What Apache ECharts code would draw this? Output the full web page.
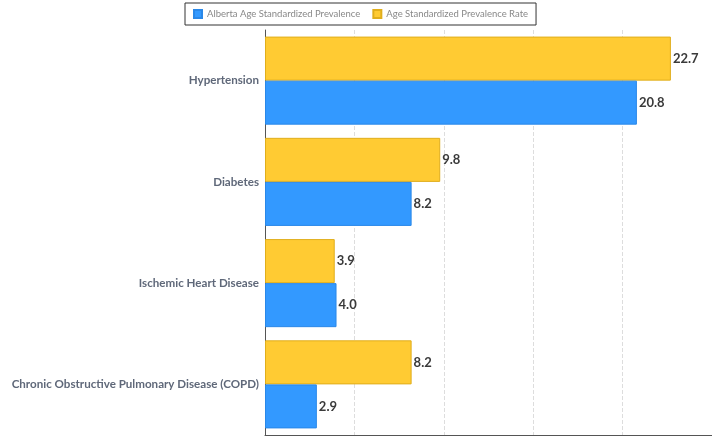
<!DOCTYPE html>
<html>
    <head>
        <meta charset="UTF-8">
        <title></title>
        <script type="text/javascript" src="https://cdn.jsdelivr.net/npm/echarts@6/dist/echarts.min.js"></script>
    </head>
    <body style="margin:0;">
        <div id="main" style="width: 712px;height:437px;"></div>
    </body>
</html>
<script type="text/javascript">
        // categories from top to bottom as shown in the picture
        var diseases = ['Hypertension', 'Diabetes', 'Ischemic Heart Disease', 'Chronic Obstructive Pulmonary Disease (COPD)'];
        var albertaRate = [20.8, 8.2, 4.0, 2.9];
        var otherRate = [22.7, 9.8, 3.9, 8.2];
        var seriesNames = ['Alberta Age Standardized Prevalence', 'Age Standardized Prevalence Rate'];

        var myChart = echarts.init(document.getElementById('main'));
        var labelStyle = {
                show: true,
                position: 'right',
                distance: 2,
                color: '#3a3a3a',
                fontWeight: 'bold',
                fontSize: 13,
                fontFamily: 'Lato',
                formatter: function(p) { return p.value.toFixed(1); }
        };
        option = {
                animation: false,
                legend: {
                        data: seriesNames,   // blue entry first
                        left: 185,
                        top: 3,
                        padding: [6, 8, 6, 8],
                        borderColor: '#333',
                        borderWidth: 1,
                        itemWidth: 8,
                        itemHeight: 8,
                        itemGap: 12,
                        icon: 'rect',
                        textStyle: { color: '#888', fontSize: 9.5, fontFamily: 'Lato' }
                },
                grid: {
                        left: 265,
                        right: 0,
                        top: 30,
                        bottom: 2
                },
                xAxis: {
                        type: 'value',
                        min: 0,
                        max: 25,
                        interval: 5,
                        axisLabel: { show: false },
                        axisTick: { show: false },
                        axisLine: { show: true, lineStyle: { color: '#555' } },
                        splitLine: { show: true, lineStyle: { type: 'dashed', color: '#ddd' } }
                },
                yAxis: {
                        type: 'category',
                        data: diseases.slice().reverse(),
                        axisTick: { show: false },
                        axisLine: { show: true, lineStyle: { color: '#555' } },
                        axisLabel: { color: '#5f6879', fontSize: 11.6, fontWeight: 'bold', fontFamily: 'Lato', margin: 6 }
                },
                // yellow series listed first so it sits above the blue bar in each band
                series: [{
                        name: seriesNames[1],
                        type: 'bar',
                        data: otherRate.slice().reverse(),
                        barCategoryGap: '13%',
                        barGap: '0%',
                        itemStyle: { color: '#ffcb33', borderColor: '#e0ae1c', borderWidth: 1 },
                        label: labelStyle
                }, {
                        name: seriesNames[0],
                        type: 'bar',
                        data: albertaRate.slice().reverse(),
                        barCategoryGap: '13%',
                        barGap: '0%',
                        itemStyle: { color: '#3399ff', borderColor: '#2a88e8', borderWidth: 1 },
                        label: labelStyle
                }]
        };
        myChart.setOption(option);
</script>
